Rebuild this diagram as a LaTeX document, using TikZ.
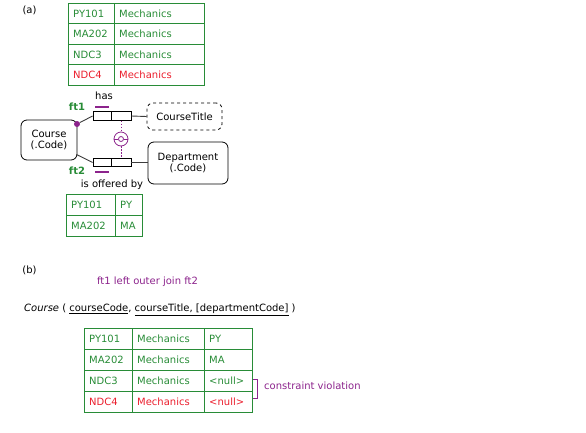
\documentclass[tikz,border=0pt]{standalone}
\usepackage{fontspec}
\setmainfont{DejaVu Sans}
\usetikzlibrary{calc}
\definecolor{tgreen}{RGB}{40,140,55}
\definecolor{tred}{RGB}{235,30,45}
\definecolor{tpurple}{RGB}{140,35,140}
\definecolor{lgray}{RGB}{60,60,60}
\begin{document}
\begin{tikzpicture}[x=1pt,y=-1pt,
  every node/.style={font=\fontsize{10}{11.5}\selectfont, inner sep=0pt},
  cellg/.style={anchor=west, text=tgreen},
  cellr/.style={anchor=west, text=tred},
  grid/.style={draw=tgreen, line width=0.9pt},
  obj/.style={draw=black, line width=0.8pt, rounded corners=6pt, align=center},
  role/.style={draw=black, line width=0.8pt, minimum height=8.5pt},
  conn/.style={draw=lgray, line width=0.9pt},
  ucbar/.style={draw=tpurple, line width=1.1pt},
  cons/.style={draw=tpurple, line width=0.8pt},
  dotline/.style={draw=tpurple, line width=0.8pt, dash pattern=on 1.5pt off 1.5pt},
  ftlab/.style={text=tgreen, font=\fontsize{10}{11.5}\selectfont\bfseries}
]
\useasboundingbox (0,0) rectangle (586,432);

% ---------- (a) ----------
\node (la) at (29.5,10) {(a)};

% table a1
\draw[grid] (68,3) rectangle (204,85);
\foreach \y in {23.5,44,64.5} \draw[grid] (68,\y) -- (204,\y);
\draw[grid] (114,3) -- (114,85);
\node[cellg] (t1a) at (73,13.5) {PY101};
\node[cellg] (t1b) at (119,13.5) {Mechanics};
\node[cellg] (t2a) at (73,34) {MA202};
\node[cellg] (t2b) at (119,34) {Mechanics};
\node[cellg] (t3a) at (73,54.5) {NDC3};
\node[cellg] (t3b) at (119,54.5) {Mechanics};
\node[cellr] (t4a) at (73,75) {NDC4};
\node[cellr] (t4b) at (119,75) {Mechanics};

% object types
\node[obj, minimum width=56pt, minimum height=40pt] (course) at (49,140) {Course\\(.Code)};
\node[obj, dashed, minimum width=75pt, minimum height=27pt] (ctitle) at (184.5,116.5) {CourseTitle};
\node[obj, minimum width=80pt, minimum height=42pt] (dept) at (188,163) {Department\\(.Code)};

% fact types
\node[role, minimum width=18pt] (r11) at (102,116) {};
\node[role, minimum width=20pt] (r12) at (121,116) {};
\node[role, minimum width=18pt] (r21) at (102,162.5) {};
\node[role, minimum width=20pt] (r22) at (121,162.5) {};

\node[circle, fill=tpurple, minimum size=6pt] (dot) at (77,124) {};
\coordinate (c2) at (76.5,154.5);
\draw[conn] (dot) -- (r11.west);
\draw[conn] (c2) -- (r21.west);
\draw[conn] (r12.east) -- (ctitle.west);
\draw[conn] (r22.east) -- (dept.west |- r22.east);

% uniqueness bars
\coordinate (u1a) at (95,107); \coordinate (u1b) at (109,107);
\coordinate (u2a) at (95,172); \coordinate (u2b) at (109,172);
\draw[ucbar] (u1a) -- (u1b);
\draw[ucbar] (u2a) -- (u2b);

% subset / constraint symbol
\node[circle, draw=tpurple, line width=0.8pt, minimum size=14pt] (sc) at (121,139) {};
\node[circle, draw=tpurple, line width=0.8pt, minimum size=5pt] (sci) at (121,139) {};
\draw[cons] (sc.west) -- (sci.west);
\draw[cons] (sci.east) -- (sc.east);
\draw[dotline] (r12.south) -- (sc.north);
\draw[dotline] (sc.south) -- (r22.north);

% labels
\node (has) at (104,96) {has};
\node[ftlab] (ft1) at (77,107) {ft1};
\node[ftlab] (ft2) at (77,170.5) {ft2};
\node (iob) at (112,184.5) {is offered by};

% table a2
\draw[grid] (66,194) rectangle (142,236);
\draw[grid] (66,215) -- (142,215);
\draw[grid] (115,194) -- (115,236);
\node[cellg] (s1a) at (71,204.5) {PY101};
\node[cellg] (s1b) at (120,204.5) {PY};
\node[cellg] (s2a) at (71,225.5) {MA202};
\node[cellg] (s2b) at (120,225.5) {MA};

% ---------- (b) ----------
\node (lb) at (29.5,270) {(b)};
\node[text=tpurple] (join) at (147.5,282) {ft1 left outer join ft2};
\node[anchor=west] (schema) at (24,310) {\textit{Course} ( \underline{courseCode}, \underline{courseTitle, [departmentCode]} )};

\draw[grid] (84,328) rectangle (252,412);
\foreach \y in {349,370,391} \draw[grid] (84,\y) -- (252,\y);
\draw[grid] (132,328) -- (132,412);
\draw[grid] (204,328) -- (204,412);
\node[cellg] (b1a) at (89,338.5) {PY101};
\node[cellg] (b1b) at (137,338.5) {Mechanics};
\node[cellg] (b1c) at (209,338.5) {PY};
\node[cellg] (b2a) at (89,359.5) {MA202};
\node[cellg] (b2b) at (137,359.5) {Mechanics};
\node[cellg] (b2c) at (209,359.5) {MA};
\node[cellg] (b3a) at (89,380.5) {NDC3};
\node[cellg] (b3b) at (137,380.5) {Mechanics};
\node[cellg] (b3c) at (209,380.5) {<null>};
\node[cellr] (b4a) at (89,401.5) {NDC4};
\node[cellr] (b4b) at (137,401.5) {Mechanics};
\node[cellr] (b4c) at (209,401.5) {<null>};

\draw[cons] (253,379) -- (257.5,379) -- (257.5,398) -- (253,398);
\node[anchor=west, text=tpurple] (cv) at (264,386) {constraint violation};
\end{tikzpicture}
\end{document}
